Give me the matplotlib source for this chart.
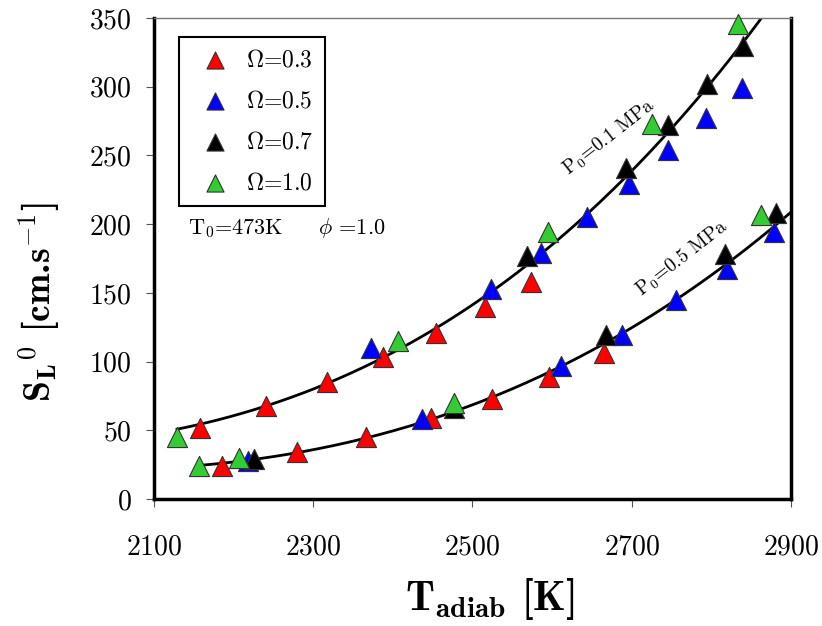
import numpy as np
import matplotlib
matplotlib.use("Agg")
import matplotlib.pyplot as plt

plt.rcParams["font.family"] = "cmr10"
plt.rcParams["mathtext.fontset"] = "cm"
plt.rcParams["axes.formatter.use_mathtext"] = True
plt.rcParams["axes.unicode_minus"] = False

# data: (T_adiab [K], S_L [cm/s])
t_03 = [2158, 2241, 2317, 2388, 2454, 2516, 2574, 2185, 2279, 2366, 2448, 2524, 2596, 2665]
s_03 = [52, 68, 85, 103, 121, 140, 158, 24, 34, 45, 59, 73, 89, 106]

t_05 = [2373, 2523, 2586, 2644, 2696, 2746, 2793, 2839, 2218, 2436, 2611, 2688, 2755, 2819, 2879]
s_05 = [110, 153, 179, 205, 229, 254, 277, 299, 28, 58, 97, 119, 145, 167, 194]

t_07 = [2568, 2693, 2746, 2794, 2840, 2226, 2477, 2668, 2817, 2881]
s_07 = [177, 241, 272, 302, 330, 29, 66, 119, 178, 208]

t_10 = [2129, 2407, 2595, 2725, 2833, 2157, 2207, 2477, 2862]
s_10 = [45, 115, 194, 273, 346, 24, 30, 70, 207]

# points along the two fitted curves
fit_t_01 = [2129, 2241, 2317, 2454, 2523, 2568, 2693, 2746, 2840, 2861]
fit_s_01 = [50, 69, 85, 122, 148, 173, 235, 268, 330, 350]
fit_t_05 = [2157, 2226, 2279, 2366, 2448, 2524, 2611, 2668, 2755, 2819, 2900]
fit_s_05 = [24, 29, 34, 45, 58, 73, 95, 115, 145, 172, 208]

fig = plt.figure(figsize=(8.22, 6.26), dpi=100)
ax = fig.add_axes([0.1873, 0.2029, 0.775, 0.7683])

for ft, fs, t_end in [(fit_t_01, fit_s_01, 2875), (fit_t_05, fit_s_05, 2900)]:
    c = np.polyfit(ft, fs, 3)
    tt = np.linspace(ft[0], t_end, 200)
    ax.plot(tt, np.polyval(c, tt), color="black", lw=2.0, zorder=2)

series = [
    (t_03, s_03, "#ff0000", r"$\Omega$=0.3"),
    (t_05, s_05, "#0000ff", r"$\Omega$=0.5"),
    (t_07, s_07, "#000000", r"$\Omega$=0.7"),
    (t_10, s_10, "#33cc33", r"$\Omega$=1.0"),
]
for t, s, col, lab in series:
    ax.scatter(t, s, marker="^", s=210, c=col, edgecolors="#333333",
               linewidths=0.8, label=lab, zorder=3, clip_on=False)

ax.set_xlim(2100, 2900)
ax.set_ylim(0, 350)
ax.set_xticks([2100, 2300, 2500, 2700, 2900])
ax.set_yticks(range(0, 351, 50))
ax.tick_params(direction="out", length=6, width=0.8, color="#555555",
               labelsize=20)
ax.tick_params(axis="y", pad=10)
ax.tick_params(axis="x", pad=19)
for side in ["left", "bottom", "right"]:
    ax.spines[side].set_linewidth(2.5)
    ax.spines[side].set_color("black")
ax.spines["top"].set_linewidth(1.0)
ax.spines["top"].set_color("#777777")

ax.set_xlabel(r"T$_\mathbf{adiab}$ [K]", fontsize=30, family="cmb10")
ax.xaxis.set_label_coords(0.527, -0.16)
ax.set_ylabel(r"S$_\mathbf{L}$$^\mathbf{0}$ [cm.s$^\mathbf{-1}$]", fontsize=27,
              family="cmb10")
ax.yaxis.set_label_coords(-0.145, 0.41)

ax.text(2143, 197, r"T$_0$=473K", fontsize=16, va="center")
ax.text(2306, 197, r"$\phi$ =1.0", fontsize=16, va="center")
ax.text(2672, 263, r"P$_0$=0.1 MPa", fontsize=14, rotation=38,
        ha="center", va="center")
ax.text(2763, 175, r"P$_0$=0.5 MPa", fontsize=14, rotation=38,
        ha="center", va="center")

leg = ax.legend(loc="upper left", bbox_to_anchor=(0.04, 0.96), borderaxespad=0,
                fontsize=17, markerscale=0.85, labelspacing=0.8,
                handletextpad=0.3, borderpad=0.5, fancybox=False,
                edgecolor="black", framealpha=1)
leg.get_frame().set_linewidth(1.5)

fig.savefig("out.png", dpi=100)
